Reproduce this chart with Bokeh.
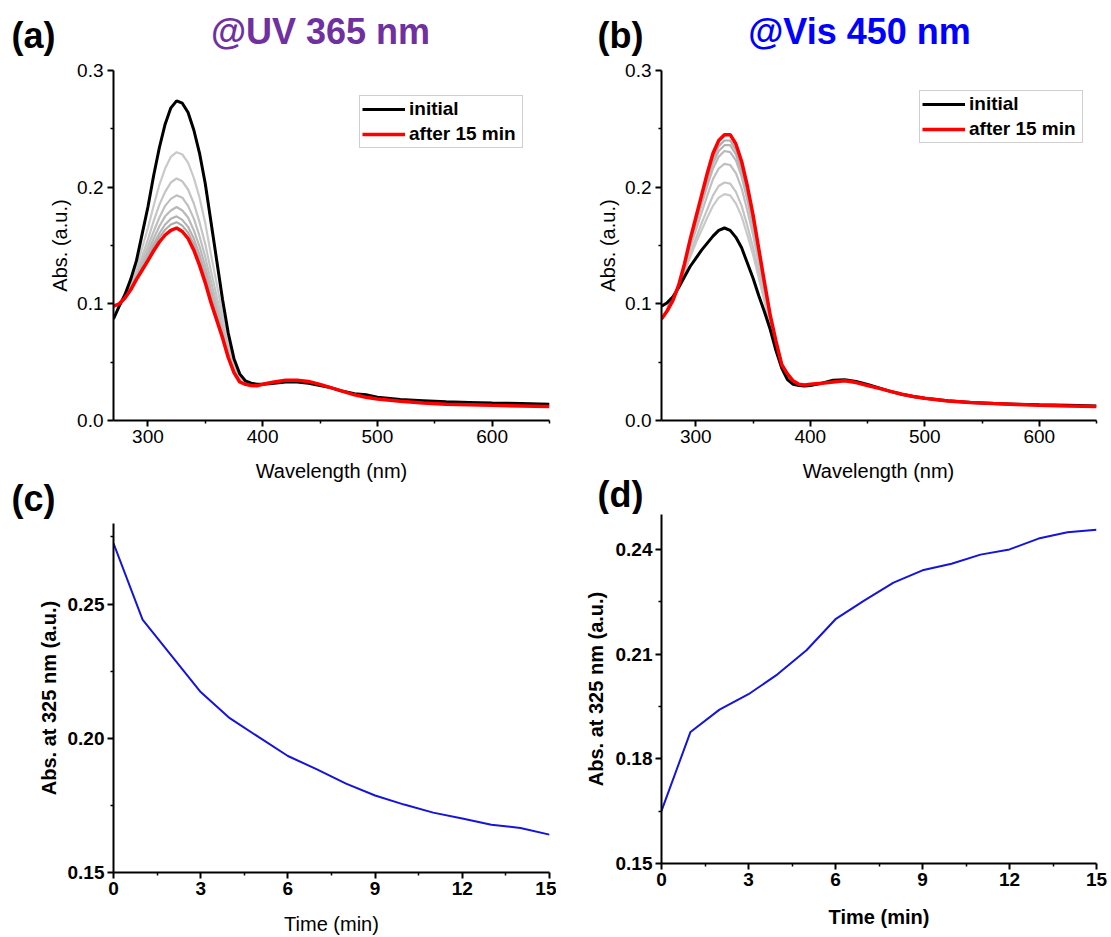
from bokeh.plotting import figure
from bokeh.models import (FixedTicker, PrintfTickFormatter, Label, Legend, LegendItem, Range1d)
from bokeh.layouts import column, row
from bokeh.embed import file_html
from bokeh.resources import INLINE

FONT = "Liberation Sans"

# ---------------- data ----------------
wl = [270, 275, 280, 285, 290, 295, 300, 305, 310, 315, 320, 325, 330, 335, 340, 345, 350,
      355, 360, 365, 370, 375, 380, 385, 390, 395, 400, 410, 420, 430, 440, 450, 460, 470,
      480, 490, 500, 520, 540, 560, 580, 600, 625, 650]

# panel (a): UV 365 nm irradiation
a_initial = [0.087, 0.098, 0.108, 0.121, 0.137, 0.160, 0.183, 0.210, 0.234, 0.254, 0.268, 0.274,
             0.272, 0.264, 0.249, 0.229, 0.203, 0.170, 0.137, 0.104, 0.075, 0.053, 0.040, 0.034,
             0.032, 0.031, 0.031, 0.032, 0.033, 0.033, 0.032, 0.030, 0.028, 0.025, 0.023, 0.022,
             0.020, 0.018, 0.017, 0.016, 0.0155, 0.015, 0.0145, 0.014]
a_final = [0.098, 0.100, 0.105, 0.112, 0.121, 0.129, 0.137, 0.1455, 0.153, 0.159, 0.163, 0.165,
           0.162, 0.156, 0.146, 0.133, 0.118, 0.101, 0.086, 0.071, 0.054, 0.041, 0.033, 0.031,
           0.030, 0.0298, 0.031, 0.033, 0.0345, 0.0345, 0.0335, 0.031, 0.028, 0.025, 0.022, 0.020,
           0.0185, 0.0165, 0.015, 0.014, 0.0135, 0.013, 0.0125, 0.012]

wl_gray = [275, 280, 285, 290, 295, 300, 305, 310, 315, 320, 325, 330, 335, 340, 345, 350,
           355, 360, 365, 370, 375, 380, 385, 390]
a_t2 = [0.099, 0.107, 0.117, 0.131, 0.148, 0.165, 0.184, 0.202, 0.216, 0.226, 0.230, 0.228, 0.221,
        0.208, 0.191, 0.169, 0.142, 0.117, 0.091, 0.067, 0.048, 0.037, 0.033, 0.031]
a_t4 = [0.099, 0.106, 0.1155, 0.127, 0.141, 0.155, 0.171, 0.185, 0.196, 0.204, 0.2075, 0.205, 0.198,
        0.186, 0.170, 0.151, 0.128, 0.106, 0.084, 0.062, 0.046, 0.036, 0.032, 0.031]
a_t6 = [0.099, 0.106, 0.114, 0.125, 0.137, 0.149, 0.162, 0.174, 0.184, 0.190, 0.193, 0.191, 0.184,
        0.173, 0.158, 0.140, 0.119, 0.099, 0.080, 0.059, 0.044, 0.035, 0.032, 0.030]
a_t8 = [0.099, 0.1055, 0.1135, 0.1235, 0.134, 0.1445, 0.156, 0.1665, 0.175, 0.180, 0.183, 0.180,
        0.174, 0.163, 0.149, 0.132, 0.112, 0.0945, 0.0765, 0.0575, 0.043, 0.034, 0.0315, 0.030]
a_t10 = [0.099, 0.105, 0.113, 0.1225, 0.132, 0.141, 0.1515, 0.1605, 0.168, 0.173, 0.175, 0.172,
         0.166, 0.156, 0.142, 0.126, 0.1075, 0.091, 0.074, 0.056, 0.042, 0.0337, 0.031, 0.030]
a_t12 = [0.099, 0.105, 0.1125, 0.122, 0.1305, 0.139, 0.1485, 0.157, 0.1635, 0.168, 0.170, 0.167,
         0.161, 0.151, 0.1375, 0.122, 0.104, 0.0885, 0.0725, 0.055, 0.0415, 0.0333, 0.031, 0.030]

# panel (b): Vis 450 nm irradiation
b_initial = [0.098, 0.101, 0.106, 0.114, 0.123, 0.132, 0.139, 0.146, 0.152, 0.158, 0.163, 0.165,
             0.163, 0.157, 0.148, 0.135, 0.122, 0.107, 0.093, 0.078, 0.060, 0.045, 0.035, 0.031,
             0.030, 0.0296, 0.030, 0.032, 0.0345, 0.035, 0.0335, 0.031, 0.028, 0.025, 0.0225, 0.0205,
             0.019, 0.017, 0.0155, 0.0145, 0.014, 0.0135, 0.013, 0.0125]
b_final = [0.087, 0.094, 0.103, 0.116, 0.134, 0.155, 0.174, 0.193, 0.212, 0.229, 0.240, 0.245,
           0.245, 0.237, 0.222, 0.201, 0.176, 0.147, 0.118, 0.090, 0.068, 0.048, 0.040, 0.034,
           0.031, 0.0305, 0.031, 0.032, 0.033, 0.034, 0.0325, 0.030, 0.0275, 0.025, 0.0225, 0.0205,
           0.019, 0.0168, 0.0155, 0.0145, 0.0138, 0.013, 0.0125, 0.012]
b_t2 = [0.099, 0.105, 0.115, 0.127, 0.140, 0.152, 0.163, 0.174, 0.184, 0.191, 0.194, 0.193, 0.186,
        0.175, 0.159, 0.142, 0.122, 0.102, 0.082, 0.063, 0.046, 0.037, 0.032, 0.030]
b_t4 = [0.098, 0.1045, 0.115, 0.128, 0.143, 0.156, 0.169, 0.181, 0.193, 0.201, 0.204, 0.203, 0.196,
        0.184, 0.167, 0.148, 0.127, 0.105, 0.084, 0.064, 0.0465, 0.0375, 0.0325, 0.0305]
b_t6 = [0.097, 0.104, 0.115, 0.131, 0.148, 0.163, 0.178, 0.193, 0.207, 0.216, 0.220, 0.219, 0.212,
        0.199, 0.180, 0.159, 0.135, 0.110, 0.086, 0.066, 0.047, 0.038, 0.033, 0.0307]
b_t8 = [0.096, 0.1035, 0.1156, 0.132, 0.151, 0.168, 0.185, 0.201, 0.216, 0.226, 0.231, 0.230, 0.223,
        0.209, 0.189, 0.166, 0.140, 0.114, 0.088, 0.067, 0.0475, 0.039, 0.0335, 0.031]
b_t10 = [0.095, 0.1033, 0.1158, 0.133, 0.152, 0.170, 0.188, 0.205, 0.221, 0.231, 0.236, 0.236, 0.228,
         0.214, 0.194, 0.170, 0.142, 0.115, 0.089, 0.067, 0.0477, 0.0394, 0.0337, 0.0309]
b_t12 = [0.095, 0.1032, 0.1159, 0.1333, 0.154, 0.172, 0.190, 0.208, 0.225, 0.235, 0.240, 0.240, 0.232,
         0.217, 0.197, 0.173, 0.145, 0.116, 0.089, 0.068, 0.0478, 0.0397, 0.0338, 0.0309]

# panels (c), (d): absorbance at 325 nm vs time
time_min = [0, 1, 2, 3, 4, 5, 6, 7, 8, 9, 10, 11, 12, 13, 14, 15]
c_abs = [0.2726, 0.2442, 0.2307, 0.2172, 0.2075, 0.2004, 0.1934, 0.1884, 0.1831, 0.1787,
         0.1753, 0.1723, 0.1701, 0.1678, 0.1666, 0.1641]
d_abs = [0.1651, 0.1877, 0.1941, 0.1985, 0.2042, 0.2111, 0.2200, 0.2254, 0.2305, 0.2340,
         0.2359, 0.2385, 0.2400, 0.2431, 0.2449, 0.2456]

gray_colors = ["#c9c9c9", "#c4c4c4", "#bfbfbf", "#b9b9b9", "#b3b3b3", "#adadad"]

wl_ticks = [300, 400, 500, 600]
wl_minor = [350, 450, 550, 650]
abs_ticks = [0.0, 0.1, 0.2, 0.3]
abs_minor = [0.05, 0.15, 0.25]
t_ticks = [0, 3, 6, 9, 12, 15]
t_minor = [1.5, 4.5, 7.5, 10.5, 13.5]
c_ticks = [0.15, 0.20, 0.25]
c_minor = [0.175, 0.225, 0.275]
d_ticks = [0.15, 0.18, 0.21, 0.24]
d_minor = [0.165, 0.195, 0.225]


def strip(w, h, x0, y0, texts):
    """A text-only band; its data coordinates equal page pixels (y downward).
    Each text is given by the page position of its baseline."""
    p = figure(width=w, height=h, output_backend="svg", toolbar_location=None,
               x_range=Range1d(x0, x0 + w), y_range=Range1d(y0 + h, y0),
               x_axis_type=None, y_axis_type=None,
               min_border_left=0, min_border_right=0, min_border_top=0, min_border_bottom=0)
    p.outline_line_color = None
    p.background_fill_color = "white"
    p.border_fill_color = "white"
    for (X, Y, text, size, color, align, style) in texts:
        # the label anchor sits at the middle of the em box
        p.add_layout(Label(x=X, y=Y - 0.3465 * size, text=text, text_font=FONT,
                           text_font_size=f"{size}px", text_font_style=style,
                           text_color=color, text_align=align, text_baseline="alphabetic"))
    return p


def make_fig(w, h, bl, br, bt, bb, xr, yr):
    p = figure(width=w, height=h, output_backend="svg", toolbar_location=None,
               x_range=Range1d(*xr), y_range=Range1d(*yr),
               min_border_left=bl, min_border_right=br, min_border_top=bt, min_border_bottom=bb)
    p.outline_line_color = None
    p.xgrid.visible = False
    p.ygrid.visible = False
    p.background_fill_color = "white"
    p.border_fill_color = "white"
    for ax in (p.xaxis[0], p.yaxis[0]):
        ax.axis_line_width = 2
        ax.axis_line_color = "black"
        ax.major_tick_line_width = 2
        ax.minor_tick_line_width = 1.5
        ax.major_tick_in = 0
        ax.major_tick_out = 6
        ax.minor_tick_in = 0
        ax.minor_tick_out = 3
        ax.major_label_text_font = FONT
        ax.major_label_text_color = "black"
        ax.axis_label_text_font = FONT
        ax.axis_label_text_color = "black"
        ax.axis_label_text_font_style = "normal"
        ax.major_label_text_font_style = "normal"
    return p


def spectra_fig(w, bl, br, initial, final, grays, legend_loc):
    # figure spans page y 60..452, frame 70..420; its x title lives in the band below
    p = make_fig(w, 392, bl, br, 10, 32, (270, 650), (0, 0.3))
    p.xaxis.ticker = FixedTicker(ticks=wl_ticks, minor_ticks=wl_minor)
    p.yaxis.ticker = FixedTicker(ticks=abs_ticks, minor_ticks=abs_minor)
    p.yaxis.formatter = PrintfTickFormatter(format="%.1f")
    p.yaxis.axis_label = "Abs. (a.u.)"
    for ax in (p.xaxis[0], p.yaxis[0]):
        ax.major_label_text_font_size = "19px"
        ax.axis_label_text_font_size = "20px"
        ax.major_label_standoff = 3
    p.yaxis.major_label_standoff = 4
    p.yaxis.axis_label_standoff = 3
    for g, col in zip(grays, gray_colors):
        p.line(wl_gray, g, line_color=col, line_width=2.2)
    r_init = p.line(wl, initial, line_color="black", line_width=3)
    r_fin = p.line(wl, final, line_color="#ff0000", line_width=3.5)
    leg = Legend(items=[LegendItem(label="initial", renderers=[r_init]),
                        LegendItem(label="after 15 min", renderers=[r_fin])],
                 location=legend_loc, orientation="vertical",
                 label_text_font=FONT, label_text_font_size="19px", label_text_font_style="bold",
                 label_text_color="black", glyph_width=43, glyph_height=18, label_height=18,
                 label_width=111, label_standoff=4, spacing=3, padding=2, margin=0,
                 border_line_color="#a0a0a0", border_line_width=1.2,
                 background_fill_color="white", background_fill_alpha=1.0)
    p.add_layout(leg, "center")
    return p


def kinetics_fig(w, h, bl, br, bt, bb, values, yr, ticks, minor, xlabel_bold, xlab_standoff,
                 ylab_standoff):
    p = make_fig(w, h, bl, br, bt, bb, (0, 15), yr)
    p.xaxis.ticker = FixedTicker(ticks=t_ticks, minor_ticks=t_minor)
    p.yaxis.ticker = FixedTicker(ticks=ticks, minor_ticks=minor)
    p.yaxis.formatter = PrintfTickFormatter(format="%.2f")
    p.xaxis.axis_label = "Time (min)"
    p.yaxis.axis_label = "Abs. at 325 nm (a.u.)"
    for ax in (p.xaxis[0], p.yaxis[0]):
        ax.major_label_text_font_size = "19px"
        ax.major_label_text_font_style = "bold"
        ax.axis_label_text_font_size = "20px"
        ax.major_label_standoff = 3
    p.yaxis.axis_label_text_font_style = "bold"
    p.xaxis.axis_label_text_font_style = "bold" if xlabel_bold else "normal"
    p.xaxis.axis_label_standoff = xlab_standoff
    p.yaxis.axis_label_standoff = ylab_standoff
    p.line(time_min, values, line_color="#1414dc", line_width=2)
    return p


# left column: header 0-60, (a) 60-452, band 452-523, (c) 523-937
head_a = strip(556, 60, 0, 0, [(11, 47.5, "(a)", 36, "black", "left", "bold"),
                               (320, 43, "@UV 365 nm", 36, "#7030a0", "center", "bold")])
pa = spectra_fig(556, 113, 7, a_initial, a_final, [a_t2, a_t4, a_t6, a_t8, a_t10, a_t12], (246, 272))
band_c = strip(556, 71, 0, 452, [(331, 477.5, "Wavelength (nm)", 20, "black", "center", "normal"),
                                 (11, 510.7, "(c)", 36, "black", "left", "bold")])
pc = kinetics_fig(556, 414, 113, 7, 0, 64, c_abs, (0.15, 0.28), c_ticks, c_minor, False, 15, 5)

# right column: header 0-60, (b) 60-452, band 452-514, (d) 514-937
head_b = strip(555, 60, 556, 0, [(597, 47.5, "(b)", 36, "black", "left", "bold"),
                                 (859, 43, "@Vis 450 nm", 36, "#0000ff", "center", "bold")])
pb = spectra_fig(555, 105, 15, b_initial, b_final, [b_t2, b_t4, b_t6, b_t8, b_t10, b_t12], (258, 277))
band_d = strip(555, 62, 556, 452, [(878, 477.5, "Wavelength (nm)", 20, "black", "center", "normal"),
                                   (597, 506, "(d)", 36, "black", "left", "bold")])
pd_ = kinetics_fig(555, 423, 105, 15, 0, 74, d_abs, (0.15, 0.25), d_ticks, d_minor, True, 17, 6)

left = column(row(head_a), row(pa), row(band_c), row(pc), spacing=0)
right = column(row(head_b), row(pb), row(band_d), row(pd_), spacing=0)
layout = row(left, right, spacing=0)

open("out.html", "w").write(file_html(layout, INLINE))
